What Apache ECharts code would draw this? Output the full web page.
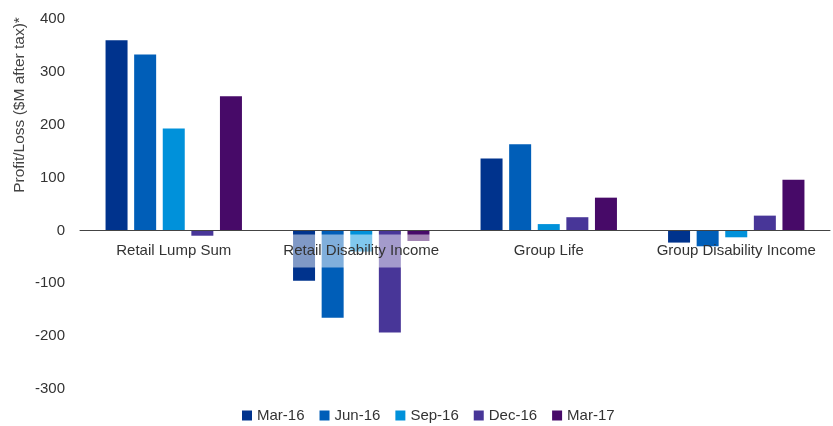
<!DOCTYPE html>
<html><head><meta charset="utf-8">
<script src="https://cdn.jsdelivr.net/npm/echarts@6/dist/echarts.min.js"></script>
<style>html,body{margin:0;padding:0;background:#fff}#c{width:833px;height:426px}</style>
</head><body><div id="c"></div>
<script>
const categories = ['Retail Lump Sum', 'Retail Disability Income', 'Group Life', 'Group Disability Income'];
const seriesNames = ['Mar-16', 'Jun-16', 'Sep-16', 'Dec-16', 'Mar-17'];
const mar16 = [360, -95, 136, -23];
const jun16 = [333, -165, 163, -30];
const sep16 = [193, -40, 12, -13];
const dec16 = [-10, -193, 25, 28];
const mar17 = [254, -20, 62, 96];
const yTicks = [-300, -200, -100, 0, 100, 200, 300, 400];
const colors = ['#00338D', '#005EB8', '#0091DA', '#483698', '#470A68'];
const values = [mar16, jun16, sep16, dec16, mar17];
const font = '"Liberation Sans", Arial, sans-serif';

const gridTop = 19, gridBottom = 37, H = 426;
const yMin = -300, yMax = 400;
const plotH = H - gridTop - gridBottom;
const zeroOffset = plotH * (0 - yMin) / (yMax - yMin);

const chart = echarts.init(document.getElementById('c'));
chart.setOption({
  animation: false,
  textStyle: { fontFamily: font },
  grid: { left: 80, right: 3, top: gridTop, bottom: gridBottom },
  legend: {
    bottom: -2, left: 237,
    itemWidth: 10, itemHeight: 10, itemGap: 15,
    icon: 'rect',
    textStyle: { fontSize: 15, color: '#333', fontFamily: font },
    data: seriesNames
  },
  graphic: [{
    type: 'text', x: 20, y: 105, rotation: Math.PI / 2,
    style: { text: 'Profit/Loss ($M after tax)*', fontSize: 15.5, fill: '#444', fontFamily: font,
      align: 'center', verticalAlign: 'middle' }
  }],
  xAxis: {
    type: 'category', data: categories, z: 10,
    offset: -zeroOffset,
    axisLine: { onZero: false, lineStyle: { color: '#444', width: 1 } },
    axisTick: { show: false },
    axisLabel: {
      interval: 0, margin: 4, fontSize: 15, color: '#333', fontFamily: font,
      formatter: (v, i) => i === 1 ? '{bg|' + v + '}' : '{p|' + v + '}',
      rich: {
        bg: { fontSize: 15, color: '#333', fontFamily: font,
          backgroundColor: 'rgba(255,255,255,0.5)', padding: [9, 6] },
        p: { fontSize: 15, color: '#333', fontFamily: font, padding: [9, 6] }
      }
    }
  },
  yAxis: {
    type: 'value', min: yMin, max: yMax, interval: 100,
    axisLine: { show: false }, axisTick: { show: false }, splitLine: { show: false },
    axisLabel: {
      margin: 15, fontSize: 15, color: '#333', fontFamily: font,
      formatter: v => yTicks.includes(v) ? String(v) : ''
    }
  },
  series: seriesNames.map((n, i) => ({
    name: n, type: 'bar', data: values[i],
    barWidth: 22, barGap: '30%',
    itemStyle: { color: colors[i] }
  }))
});
</script></body></html>
